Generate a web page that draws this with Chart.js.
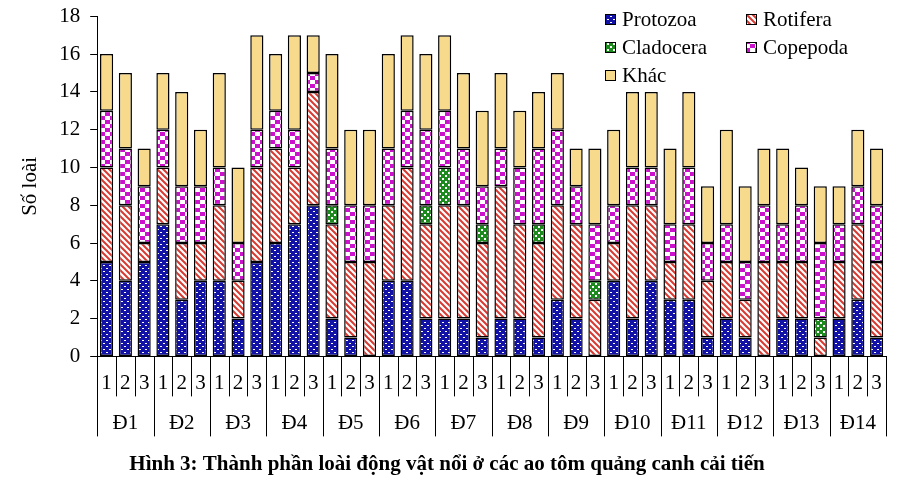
<!DOCTYPE html>
<html lang="vi">
<head>
<meta charset="UTF-8">
<title>Hình 3</title>
<script src="https://cdn.jsdelivr.net/npm/chart.js"></script>
<style>
    body {
        margin: 0;
        background-color: #fff;
    }
    #wrap {
        width: 914px;
        height: 478px;
    }
</style>
</head>
<body>
<div id="wrap"><canvas id="zooChart"></canvas></div>

<script>
    // groups (ponds) and the 3 samples per pond
    const groups = ['Đ1', 'Đ2', 'Đ3', 'Đ4', 'Đ5', 'Đ6', 'Đ7', 'Đ8', 'Đ9', 'Đ10', 'Đ11', 'Đ12', 'Đ13', 'Đ14'];
    const subLabels = ['1', '2', '3'];
    const yTicks = [0, 2, 4, 6, 8, 10, 12, 14, 16, 18];

    // number of species per group, read bar by bar
    const protozoa  = [5,4,5, 7,3,4, 4,2,5, 6,7,8, 2,1,0, 4,4,2, 2,2,1, 2,2,1, 3,2,0, 4,2,4, 3,3,1, 2,1,0, 2,2,0, 2,3,1];
    const rotifera  = [5,4,1, 3,3,2, 4,2,5, 5,3,6, 5,4,5, 4,6,5, 6,6,5, 7,5,5, 5,5,3, 2,6,4, 2,4,3, 3,2,5, 3,3,1, 3,4,4];
    const cladocera = [0,0,0, 0,0,0, 0,0,0, 0,0,0, 1,0,0, 0,0,1, 2,0,1, 0,0,1, 0,0,1, 0,0,0, 0,0,0, 0,0,0, 0,0,1, 0,0,0];
    const copepoda  = [3,3,3, 2,3,3, 2,2,2, 2,2,1, 3,3,3, 3,3,4, 3,3,2, 2,3,4, 4,2,3, 2,2,2, 2,3,2, 2,2,3, 2,3,4, 2,2,3];
    const khac      = [3,4,2, 3,5,3, 5,4,5, 3,5,2, 5,4,4, 5,4,4, 4,4,4, 4,3,3, 3,2,4, 4,4,4, 4,4,3, 5,4,3, 4,2,3, 2,3,3];

    const seriesNames = ['Protozoa', 'Rotifera', 'Cladocera', 'Copepoda', 'Khác'];
    const serif = '"Liberation Serif", "DejaVu Serif", serif';

    function makePattern(w, h, paint) {
        const c = document.createElement('canvas');
        c.width = w;
        c.height = h;
        const g = c.getContext('2d');
        paint(g);
        return g.createPattern(c, 'repeat');
    }

    const pProtozoa = makePattern(6, 6, g => {
        g.fillStyle = '#1212a6';
        g.fillRect(0, 0, 6, 6);
        g.fillStyle = '#ffffff';
        g.fillRect(1, 1, 2, 1);
        g.fillRect(4, 4, 2, 1);
    });
    const pRotifera = makePattern(6, 6, g => {
        g.fillStyle = '#ffffff';
        g.fillRect(0, 0, 6, 6);
        g.strokeStyle = '#d83a32';
        g.lineWidth = 2;
        g.beginPath();
        g.moveTo(-1, -1); g.lineTo(7, 7);
        g.moveTo(-4, 2); g.lineTo(2, 8);
        g.moveTo(2, -4); g.lineTo(8, 2);
        g.stroke();
    });
    const pCladocera = makePattern(6, 6, g => {
        g.fillStyle = '#1c8a1c';
        g.fillRect(0, 0, 6, 6);
        g.fillStyle = '#ffffff';
        g.fillRect(1, 1, 2, 2);
        g.fillRect(4, 4, 2, 2);
    });
    const pCopepoda = makePattern(10, 8, g => {
        g.fillStyle = '#cc12cc';
        g.fillRect(0, 0, 10, 8);
        g.fillStyle = '#ffffff';
        g.fillRect(0, 0, 5, 4);
        g.fillRect(5, 4, 5, 4);
    });
    const pKhac = '#f7da8c';

    const fills = [pProtozoa, pRotifera, pCladocera, pCopepoda, pKhac];
    const values = [protozoa, rotifera, cladocera, copepoda, khac];

    const datasets = seriesNames.map((name, i) => ({
        label: name,
        data: values[i].map(v => v || null),
        backgroundColor: fills[i],
        borderColor: '#000',
        borderWidth: 1.5,
        borderSkipped: false,
        barPercentage: 0.7,
        categoryPercentage: 1
    }));

    // legend in 2 columns, 3 rows, top right inside the plot
    const boxLegend = {
        id: 'boxLegend',
        afterDraw(chart) {
            const ctx = chart.ctx;
            const area = chart.chartArea;
            const colX = [area.right - 281, area.right - 140];
            ctx.save();
            ctx.font = '21px ' + serif;
            ctx.textBaseline = 'middle';
            chart.data.datasets.forEach((ds, i) => {
                const x = colX[i % 2];
                const y = 19 + Math.floor(i / 2) * 28;
                ctx.fillStyle = ds.backgroundColor;
                ctx.fillRect(x, y - 5, 10, 10);
                ctx.strokeStyle = '#000';
                ctx.lineWidth = 1;
                ctx.strokeRect(x + 0.5, y - 4.5, 10, 10);
                ctx.fillStyle = '#000';
                ctx.fillText(ds.label, x + 17, y + 1);
            });
            ctx.restore();
        }
    };

    // vertical separators under the x axis: short between samples, long between ponds
    const separators = {
        id: 'separators',
        afterDraw(chart) {
            const xs = chart.scales.x;
            const area = chart.chartArea;
            const ctx = chart.ctx;
            const n = xs.ticks.length;
            ctx.save();
            ctx.strokeStyle = '#000';
            ctx.lineWidth = 1;
            for (let i = 0; i <= n; i++) {
                let x;
                if (i === 0) x = area.left;
                else if (i === n) x = area.right;
                else x = (xs.getPixelForTick(i - 1) + xs.getPixelForTick(i)) / 2;
                x = Math.round(x) + 0.5;
                const long = i % subLabels.length === 0;
                ctx.beginPath();
                ctx.moveTo(x, area.bottom);
                ctx.lineTo(x, area.bottom + (long ? 80 : 40));
                ctx.stroke();
            }
            ctx.restore();
        }
    };

    new Chart(document.getElementById('zooChart'), {
        type: 'bar',
        data: {
            labels: groups.flatMap(() => subLabels),
            datasets: datasets
        },
        options: {
            responsive: true,
            maintainAspectRatio: false,
            animation: false,
            layout: {
                padding: { left: 8, right: 28, top: 0, bottom: 0 }
            },
            plugins: {
                legend: { display: false },
                tooltip: { enabled: false },
                title: {
                    display: true,
                    position: 'bottom',
                    text: 'Hình 3: Thành phần loài động vật nổi ở các ao tôm quảng canh cải tiến',
                    color: '#000',
                    font: { family: serif, size: 21, weight: 'bold' },
                    padding: { top: 15, bottom: 1 }
                }
            },
            scales: {
                x: {
                    stacked: true,
                    offset: true,
                    grid: { display: false, drawTicks: false },
                    border: { display: true, color: '#000', width: 1 },
                    ticks: {
                        autoSkip: false,
                        maxRotation: 0,
                        padding: 14,
                        color: '#000',
                        font: { family: serif, size: 21 }
                    }
                },
                x2: {
                    type: 'category',
                    position: 'bottom',
                    labels: groups,
                    offset: true,
                    grid: { display: false, drawTicks: false },
                    border: { display: false },
                    ticks: {
                        autoSkip: false,
                        maxRotation: 0,
                        padding: 1,
                        color: '#000',
                        font: { family: serif, size: 21 }
                    }
                },
                y: {
                    stacked: true,
                    min: 0,
                    max: 18,
                    afterBuildTicks: axis => {
                        axis.ticks = yTicks.map(v => ({ value: v }));
                    },
                    grid: {
                        drawOnChartArea: false,
                        tickLength: 7,
                        color: '#000'
                    },
                    border: { display: true, color: '#000', width: 1 },
                    ticks: {
                        padding: 10,
                        color: '#000',
                        font: { family: serif, size: 21, lineHeight: 0.6 }
                    },
                    title: {
                        display: true,
                        text: 'Số loài',
                        color: '#000',
                        font: { family: serif, size: 21 },
                        padding: { top: 10, bottom: 6 }
                    }
                }
            }
        },
        plugins: [boxLegend, separators]
    });
</script>
</body>
</html>
